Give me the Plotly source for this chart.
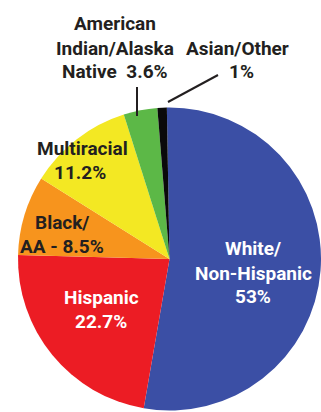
import plotly.graph_objects as go

# ---- data ----
categories = ["White/Non-Hispanic", "Hispanic", "Black/AA", "Multiracial",
              "American Indian/Alaska Native", "Asian/Other"]
values = [53, 22.7, 8.5, 11.2, 3.6, 1]
label_lines = [
    ["White/", "Non-Hispanic", "{v}%"],
    ["Hispanic", "{v}%"],
    ["Black/", "AA - {v}%"],
    ["Multiracial", "{v}%"],
    ["American", "Indian/Alaska", "Native\u00a0\u00a0{v}%"],
    ["Asian/Other", "{v}%"],
]

# ---- style / layout ----
colors = ["#3b4fa5", "#ec1c24", "#f7941d", "#f3e823", "#5cb847", "#0a0a0a"]
text_colors = ["white", "white", "#231f20", "#231f20", "#231f20", "#231f20"]
label_x = [[253, 253, 253], [101, 101], [62, 62], [82, 80], [115, 115, 115], [237, 241]]
label_y = [[248, 273, 296], [297, 321], [222, 246], [148, 172], [23, 48, 71], [48, 71]]
W, H = 321, 412
FONT = "Roboto, Liberation Sans Narrow, DejaVu Sans Condensed, sans-serif"

cx, cy, r = 170, 259, 152

fig = go.Figure()
fig.add_trace(go.Pie(
    labels=categories, values=values, sort=False, direction="clockwise",
    rotation=-1, textinfo="none", hoverinfo="label+percent",
    marker=dict(colors=colors, line=dict(width=0)),
    domain=dict(x=[(cx - r) / W, min(1, (cx + r) / W)],
                y=[max(0, 1 - (cy + r) / H), 1 - (cy - r) / H]),
    showlegend=False,
))

annotations = []
for i, lines in enumerate(label_lines):
    for j, line in enumerate(lines):
        annotations.append(dict(
            x=label_x[i][j], y=label_y[i][j], xref="x", yref="y",
            text="<b>" + line.format(v=f"{values[i]:g}") + "</b>",
            showarrow=False, xanchor="center", yanchor="middle",
            font=dict(family=FONT, size=19, color=text_colors[i]),
        ))

shapes = [
    dict(type="line", x0=137, y0=87, x1=137, y1=116, xref="x", yref="y",
         line=dict(color="#231f20", width=2)),
    dict(type="line", x0=218, y0=75, x1=168, y1=102, xref="x", yref="y",
         line=dict(color="#231f20", width=2)),
]

fig.update_layout(
    width=W, height=H, margin=dict(l=0, r=0, t=0, b=0),
    paper_bgcolor="white", plot_bgcolor="rgba(0,0,0,0)",
    xaxis=dict(range=[0, W], visible=False, fixedrange=True),
    yaxis=dict(range=[H, 0], visible=False, fixedrange=True),
    annotations=annotations, shapes=shapes,
)

fig.write_html("out.html")
